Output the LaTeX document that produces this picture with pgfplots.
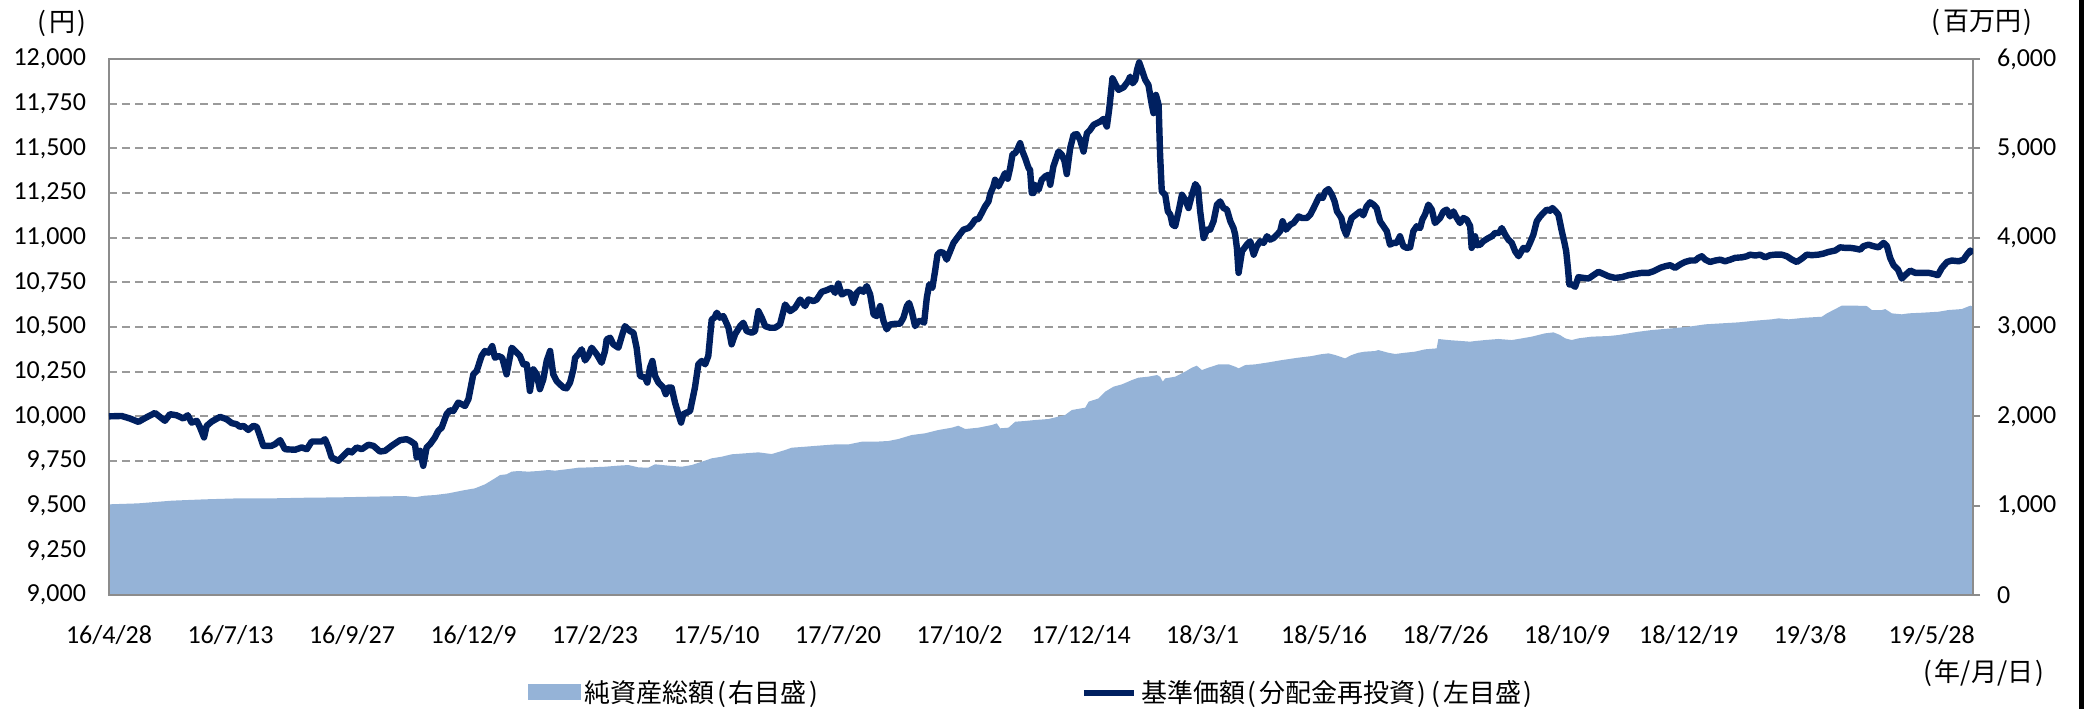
\documentclass[border=0pt]{standalone}
\usepackage{fontspec}
\setmainfont{Carlito}
\newfontfamily\jp{Noto Sans CJK JP}
\usepackage{pgfplots}
\pgfplotsset{compat=1.18}
\definecolor{navc}{HTML}{002060}
\definecolor{areac}{HTML}{95B3D7}
\definecolor{gridc}{HTML}{9A9A9A}
\definecolor{axc}{HTML}{8C8C8C}
\newcommand{\lp}{\kern0.1em(\kern0.1em}
\newcommand{\rp}{\kern0.1em)\kern0.1em}
\begin{document}
\begin{tikzpicture}
\path[use as bounding box] (0,0) rectangle (1045.5pt,354.5pt);
\begin{axis}[
  at={(54.5pt,57pt)}, anchor=south west,
  scale only axis, width=932pt, height=268pt,
  xmin=0, xmax=767, ymin=0, ymax=6000,
  axis line style={draw=none},
  xtick={0,50,...,750},
  xticklabels={16/4/28,16/7/13,16/9/27,16/12/9,17/2/23,17/5/10,17/7/20,17/10/2,17/12/14,18/3/1,18/5/16,18/7/26,18/10/9,18/12/19,19/3/8,19/5/28},
  xtick style={draw=none},
  xticklabel style={yshift=-8pt},
  ytick={0,1000,...,6000},
  minor ytick={500,1500,...,5500},
  ytick pos=right,
  yticklabel pos=right,
  ytick style={axc, line width=1pt},
  tick align=outside,
  major tick length=3.5pt,
  minor tick length=0pt,
  yticklabel style={xshift=5pt},
  ymajorgrids, yminorgrids,
  major grid style={gridc, line width=1pt, dash pattern=on 4pt off 2.5pt},
  minor grid style={gridc, line width=1pt, dash pattern=on 4pt off 2.5pt},
  tick label style={font=\fontsize{13}{15}\selectfont},
  scaled y ticks=false,
  /pgf/number format/1000 sep={,},
  /pgf/number format/assume math mode=true,
]
\addplot[fill=areac, draw=none] table {
0 1015
12.1 1026
25.8 1056
39.5 1071
53.2 1082
67.0 1082
80.7 1089
94.4 1093
108.1 1101
121.8 1108
126 1095
130.0 1112
134.1 1119
139.6 1138
146.5 1175
150.6 1194
154.7 1239
158.8 1306
160.9 1343
163.6 1351
165.7 1381
168.4 1388
172.5 1381
176.7 1388
180.8 1399
183.5 1392
189.0 1410
193.1 1425
198.6 1429
204.1 1436
209.6 1448
213.7 1455
217.8 1429
221.9 1425
224.7 1463
230.2 1448
235.7 1436
239.8 1455
243.9 1492
248.0 1530
252.1 1548
256.2 1575
261.7 1586
267.2 1597
272.7 1578
278.2 1623
280.9 1649
286.4 1660
291.9 1672
298.8 1686
304.3 1686
309.8 1716
315.2 1716
320.7 1724
324.8 1746
330.3 1791
335.8 1810
341.3 1847
346.8 1873
349.5 1895
352.3 1858
357.8 1873
363.3 1903
365.3 1921
366.7 1866
370.1 1873
372.9 1940
377.0 1948
381.1 1959
386.6 1970
393.4 2015
396.2 2071
401.7 2097
403.1 2164
407.2 2201
409.9 2276
413.3 2332
416.8 2358
420.9 2406
423.6 2433
427.7 2444
431.2 2462
432.5 2444
433.6 2388
434.6 2425
438.7 2444
442.8 2500
445.6 2545
447.6 2567
449.7 2518
452.4 2545
456.6 2582
460.7 2582
463.4 2556
464.8 2537
467.5 2574
471.7 2582
477.1 2604
482.6 2630
489.5 2657
495.0 2675
498.4 2694
501.8 2705
504.6 2686
508.6 2649
511.3 2686
514.1 2712
516.8 2724
520.9 2731
522.3 2742
526.4 2712
529.2 2698
533.3 2712
537.4 2724
541.5 2750
546.3 2761
547.0 2866
551.1 2854
556.6 2843
560.1 2836
562.1 2843
566.2 2854
571.7 2866
577.2 2854
579.9 2866
585.4 2892
590.9 2929
594.4 2940
597.1 2910
599.2 2873
601.9 2854
604.6 2873
610.1 2892
617.0 2899
621.1 2910
625.2 2929
629.3 2947
634.8 2966
643.1 2985
649.9 3003
656.8 3030
663.6 3041
670.5 3052
677.4 3071
684.2 3086
687.0 3097
691.1 3086
697.9 3104
704.8 3115
706.9 3153
710.3 3201
713.0 3239
718.5 3239
723.3 3235
725.4 3190
729.5 3190
730.9 3201
733.6 3153
737.7 3142
740.5 3153
746.0 3160
752.8 3171
756.9 3190
762.4 3201
765.9 3239
767 3227
} \closedcycle;
\end{axis}
\begin{axis}[
  at={(54.5pt,57pt)}, anchor=south west,
  scale only axis, width=932pt, height=268pt,
  xmin=0, xmax=767, ymin=9000, ymax=12000,
  axis line style={axc, line width=1pt},
  xtick=\empty,
  ytick={9000,9250,...,12000},
  ytick pos=left,
  yticklabel pos=left,
  ytick style={draw=none},
  yticklabel style={xshift=-8pt},
  tick label style={font=\fontsize{13}{15}\selectfont},
  scaled y ticks=false,
  /pgf/number format/1000 sep={,},
  /pgf/number format/assume math mode=true,
  legend columns=2,
  legend style={at={(0.496,-0.183)}, anchor=center, draw=none, fill=none,
    font=\jp\fontsize{13}{15}\selectfont,
    /tikz/every even column/.append style={column sep=128pt}},
]
\addlegendimage{legend image code/.code={\fill[areac] (0pt,-3.4pt) rectangle (26pt,4.3pt);}}
\addlegendentry{純資産総額\lp 右目盛\rp}
\addplot[navc, line width=3.2pt, line join=round,
  legend image code/.code={\draw[navc,line width=3.2pt] (0pt,0pt)--(25pt,0pt);}] table {
0 10000
5.2 10002
8.6 9988
12.1 9969
14.8 9990
18.9 10019
23.0 9975
25.1 10012
27.8 10006
30.6 9988
32.4 10006
34.0 9965
36.1 9975
37.5 9937
39.1 9882
40.2 9947
42.3 9971
45.7 9997
48.4 9984
50.5 9962
52.5 9956
53.9 9941
55.3 9947
57.3 9924
59.4 9947
60.8 9941
62.1 9891
63.5 9835
66.9 9835
68.3 9844
70.4 9867
72.4 9816
76.6 9813
79.3 9826
81.4 9816
83.4 9859
87.5 9859
88.9 9872
90.3 9826
91.6 9770
94.4 9751
96.4 9779
98.5 9807
99.9 9798
101.9 9826
104.0 9816
106.7 9841
108.8 9835
111.5 9803
113.6 9807
116.3 9835
117.7 9848
119.8 9867
122.5 9872
123.9 9863
125.9 9844
126.6 9770
128.0 9807
129.3 9723
130.7 9826
132.1 9844
134.1 9882
135.5 9919
136.9 9937
138.9 10012
140.3 10034
141.7 10030
143.7 10077
145.1 10068
146.5 10058
147.9 10096
149.9 10235
151.3 10254
153.3 10338
154.7 10366
156.1 10356
157.7 10393
158.8 10328
160.2 10338
161.8 10328
163.6 10235
165.7 10384
167.1 10366
169.1 10338
170.5 10291
171.9 10291
173.2 10142
174.6 10263
176.0 10235
177.3 10152
178.7 10207
180.1 10310
181.5 10366
182.8 10235
184.2 10198
185.6 10179
187.0 10161
188.3 10157
189.7 10189
191.1 10263
191.8 10328
193.1 10347
194.5 10375
195.9 10313
197.2 10338
198.6 10384
200.7 10347
202.7 10300
204.1 10366
204.8 10431
206.2 10440
207.5 10403
209.6 10384
211.0 10449
212.3 10505
214.4 10477
215.8 10468
217.1 10384
218.5 10226
220.6 10217
221.5 10189
222.6 10272
223.6 10310
224.7 10226
226.1 10189
228.1 10161
229.1 10124
230.2 10161
231.5 10161
232.9 10077
234.3 10012
235.4 9965
236.3 10012
237.7 10021
239.1 10030
241.1 10161
242.5 10291
243.9 10310
245.3 10291
246.6 10338
248.0 10542
249.1 10552
250.1 10580
251.4 10552
252.8 10561
254.9 10496
256.2 10403
257.6 10459
259.7 10505
261.0 10524
262.4 10477
264.5 10468
265.8 10477
267.2 10589
268.6 10552
270.0 10505
272.0 10496
274.1 10496
276.1 10514
278.2 10626
280.3 10589
282.3 10608
284.4 10654
286.4 10617
287.8 10654
289.9 10645
291.2 10654
293.3 10697
295.3 10706
297.4 10719
298.8 10691
300.1 10743
301.5 10682
303.6 10697
305.0 10691
306.3 10635
307.7 10691
309.1 10710
310.4 10697
311.8 10729
313.2 10682
314.6 10570
315.9 10561
317.3 10617
318.7 10533
320.0 10487
321.4 10514
323.5 10518
325.5 10518
326.9 10552
328.3 10617
329.2 10635
330.3 10589
331.7 10505
333.1 10533
334.4 10533
335.4 10524
336.5 10663
337.5 10738
338.8 10719
339.9 10812
340.9 10905
342.0 10920
343.4 10915
344.7 10877
346.1 10924
347.5 10971
349.5 11008
351.6 11045
353.7 11054
355.0 11073
356.4 11101
357.8 11105
359.1 11138
360.5 11175
361.9 11203
362.6 11244
363.9 11287
364.6 11324
366.0 11287
367.4 11324
368.7 11361
369.8 11330
370.8 11389
371.8 11468
372.9 11473
374.0 11501
374.9 11529
375.9 11482
377.0 11445
378.4 11389
379.0 11380
379.7 11250
380.4 11250
381.1 11296
382.5 11268
383.8 11324
385.2 11343
386.6 11352
387.3 11296
388.6 11399
390.7 11482
392.1 11464
393.2 11427
394.1 11356
395.5 11501
396.9 11576
398.3 11579
399.6 11548
401.0 11482
402.4 11585
403.7 11603
405.1 11631
406.5 11641
407.9 11650
409.2 11665
410.6 11622
411.6 11724
412.9 11892
414.3 11855
415.4 11827
417.5 11842
419.2 11873
420.2 11901
421.2 11864
422.3 11883
423.0 11939
423.9 11981
425.0 11939
426.4 11883
427.7 11855
429.1 11743
429.8 11697
430.8 11799
431.9 11743
432.5 11464
433.2 11259
434.6 11240
435.7 11147
436.7 11129
437.6 11073
438.7 11064
440.1 11147
441.5 11240
442.8 11213
444.2 11166
445.6 11240
447.0 11300
448.1 11278
449.0 11147
450.4 10998
451.8 11045
453.1 11045
454.5 11092
455.9 11185
457.2 11203
458.6 11166
460.0 11157
461.4 11092
462.7 11054
463.4 11017
464.1 10943
464.8 10803
466.2 10924
468.2 10961
469.6 10980
471.0 10905
472.3 10952
473.7 10980
475.1 10971
476.5 11008
477.8 10989
479.2 10998
480.6 11017
481.9 11036
482.9 11092
484.3 11045
486.1 11073
487.4 11082
489.5 11119
490.9 11110
492.9 11110
494.3 11129
495.7 11166
497.0 11203
498.0 11231
499.4 11222
500.5 11259
501.8 11272
503.2 11240
504.3 11203
505.3 11147
506.2 11129
507.1 11110
508.0 11054
509.1 11017
510.0 11054
511.3 11110
513.4 11132
514.8 11147
516.1 11125
517.5 11175
518.9 11198
520.3 11185
521.6 11166
523.0 11092
524.4 11064
525.8 11036
527.1 10961
528.5 10971
529.9 10971
531.2 11008
532.6 10952
534.0 10943
535.4 10946
536.7 11036
538.1 11064
539.5 11054
540.4 11101
541.5 11129
542.9 11185
544.3 11157
545.6 11082
547.7 11110
549.1 11147
550.4 11157
551.8 11119
553.2 11147
554.6 11110
555.9 11082
557.3 11110
558.7 11101
560.1 11064
560.7 10943
562.1 11008
562.8 10958
564.2 10961
565.5 10980
567.6 10998
569.0 11008
570.3 11026
572.0 11026
573.1 11054
574.5 11017
575.8 10989
577.2 10971
578.6 10924
580.0 10896
582.0 10943
583.4 10933
584.7 10971
586.1 11017
587.5 11092
588.9 11119
590.2 11138
591.6 11157
593.0 11151
593.9 11166
595.3 11147
596.4 11129
597.8 11036
598.9 10971
599.6 10924
600.3 10831
600.9 10738
601.9 10738
603.3 10725
604.6 10779
606.7 10775
608.8 10771
610.8 10790
612.9 10809
614.9 10797
617.0 10784
619.7 10775
622.5 10779
625.2 10790
628.0 10797
630.7 10803
633.5 10803
635.5 10812
638.3 10831
640.3 10840
642.4 10846
644.4 10831
646.5 10850
648.5 10864
650.6 10872
652.7 10872
654.0 10887
655.4 10896
656.8 10877
658.8 10864
660.9 10872
663.0 10877
665.0 10868
667.1 10877
669.1 10887
671.9 10890
673.9 10896
675.3 10905
677.4 10900
679.4 10905
681.5 10890
683.5 10902
685.6 10905
688.3 10905
690.4 10896
692.5 10877
694.5 10864
696.6 10883
698.6 10905
700.7 10902
703.4 10905
705.5 10911
707.5 10920
710.3 10928
712.3 10946
714.4 10943
716.5 10943
718.5 10939
720.6 10933
721.9 10952
724.0 10961
726.1 10952
728.1 10946
730.2 10971
731.6 10952
732.9 10887
734.3 10846
736.1 10822
737.7 10771
739.4 10794
741.2 10816
743.2 10803
746.0 10803
748.7 10803
750.8 10797
752.5 10790
754.2 10831
756.3 10864
758.3 10872
761.1 10868
763.1 10877
764.5 10905
765.9 10928
767 10910
};
\addlegendentry{基準価額\lp 分配金再投資\rp\lp 左目盛\rp}
\end{axis}
\node[font=\jp\fontsize{13}{15}\selectfont] at (31pt,343pt) {\lp 円\rp};
\node[font=\jp\fontsize{13}{15}\selectfont] at (991pt,343.5pt) {\lp 百万円\rp};
\node[font=\jp\fontsize{13}{15}\selectfont] at (992pt,18pt) {\lp 年/月/日\rp};
\fill[black] (1039.5pt,0pt) rectangle (1042pt,354.5pt);
\end{tikzpicture}
\end{document}
